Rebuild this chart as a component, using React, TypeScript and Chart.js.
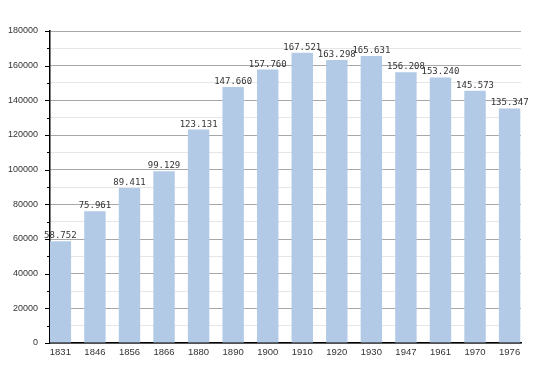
import React, { useEffect, useRef } from "react";
import { Chart, registerables } from "chart.js";

Chart.register(...registerables);

const years = ["1831", "1846", "1856", "1866", "1880", "1890", "1900", "1910", "1920", "1930", "1947", "1961", "1970", "1976"];
const population = [58752, 75961, 89411, 99129, 123131, 147660, 157760, 167521, 163298, 165631, 156208, 153240, 145573, 135347];
const valueLabels = ["58.752", "75.961", "89.411", "99.129", "123.131", "147.660", "157.760", "167.521", "163.298", "165.631", "156.208", "153.240", "145.573", "135.347"];
const yMax = 180000;
const yMinorStep = 10000;
const yMajorStep = 20000;

const labelPlugin = {
  id: "valueLabels",
  afterDatasetsDraw(chart: any) {
    const ctx = chart.ctx;
    const meta = chart.getDatasetMeta(0);
    ctx.save();
    ctx.font = "9px 'DejaVu Sans Mono', monospace";
    ctx.fillStyle = "#333";
    ctx.textAlign = "center";
    ctx.textBaseline = "alphabetic";
    meta.data.forEach((bar: any, i: number) => {
      ctx.fillText(valueLabels[i], bar.x, bar.y - 3);
    });
    ctx.restore();
  },
};

const tickPlugin = {
  id: "yTickMarks",
  afterDraw(chart: any) {
    const ctx = chart.ctx;
    const y = chart.scales.y;
    const left = chart.chartArea.left;
    ctx.save();
    ctx.strokeStyle = "#000";
    ctx.lineWidth = 1;
    for (let v = 0; v <= yMax; v += yMinorStep) {
      const py = Math.round(y.getPixelForValue(v)) + 0.5;
      const len = v % yMajorStep === 0 ? 5 : 3;
      ctx.beginPath();
      ctx.moveTo(left - len, py);
      ctx.lineTo(left, py);
      ctx.stroke();
    }
    ctx.restore();
  },
};

export default function App() {
  const ref = useRef<HTMLCanvasElement>(null);
  useEffect(() => {
    if (!ref.current) return;
    const chart = new Chart(ref.current, {
      type: "bar",
      data: {
        datasets: [
          {
            data: population.map((v, i) => ({ x: i, y: v })),
            backgroundColor: "#b2cae6",
            borderWidth: 0,
            barPercentage: 0.62,
            categoryPercentage: 1,
          },
        ],
      },
      options: {
        animation: false,
        responsive: true,
        maintainAspectRatio: false,
        layout: { padding: { top: 23, right: 21, bottom: 0, left: 0 } },
        plugins: { legend: { display: false }, tooltip: { enabled: false } },
        scales: {
          x: {
            type: "linear",
            offset: false,
            min: -0.3,
            max: 13.33,
            grid: { display: false, drawTicks: false },
            border: { display: true, color: "#000", width: 1.5 },
            ticks: {
              stepSize: 1,
              includeBounds: false,
              autoSkip: false,
              maxRotation: 0,
              padding: 4,
              color: "#333",
              font: { family: "'Liberation Sans', Arial, sans-serif", size: 9.5 },
              callback: (v: any) => (Number.isInteger(v) && years[v] ? years[v] : null),
            },
            afterFit: (s: any) => {
              s.height = 22;
            },
          },
          y: {
            min: 0,
            max: yMax,
            grid: {
              drawTicks: false,
              color: (c: any) => (c.tick && c.tick.value % yMajorStep === 0 ? "#a8a8a8" : "#e6e6e6"),
            },
            border: { display: true, color: "#000", width: 1.5 },
            ticks: {
              stepSize: yMinorStep,
              padding: 12,
              color: "#333",
              font: { family: "'Liberation Sans', Arial, sans-serif", size: 9 },
              callback: (v: any) => (v % yMajorStep === 0 ? String(v) : ""),
            },
            afterFit: (s: any) => {
              s.width = 42;
            },
          },
        },
      },
      plugins: [labelPlugin, tickPlugin],
    });
    return () => chart.destroy();
  }, []);
  return (
    <div style={{ width: 534, height: 357, position: "relative" }}>
      <canvas ref={ref} />
    </div>
  );
}
